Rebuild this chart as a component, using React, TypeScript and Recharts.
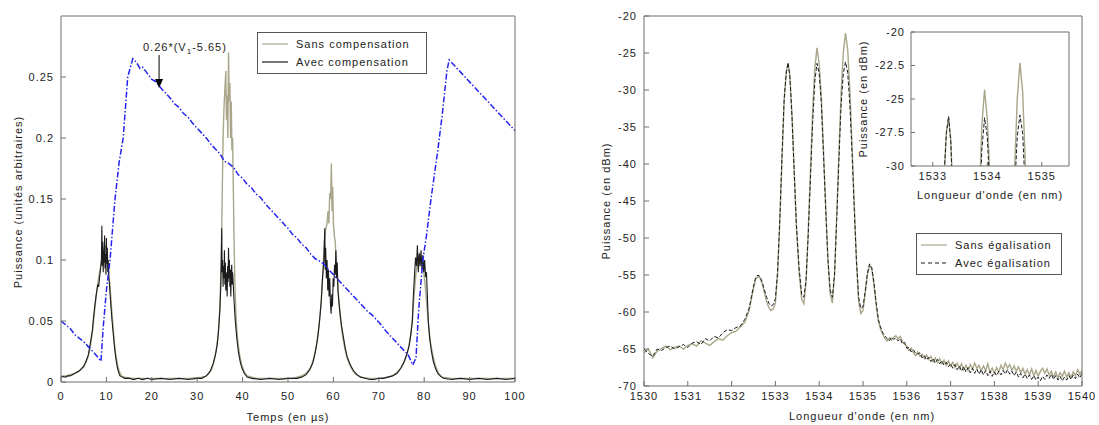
import React from 'react';
import { LineChart, Line, XAxis, YAxis, ReferenceLine, ReferenceDot } from 'recharts';

// ---------- panneau gauche : puissance vs temps ----------
const tempsTicks = [0, 10, 20, 30, 40, 50, 60, 70, 80, 90, 100];
const tempsTopTicks = [10, 20, 30, 40, 50, 60, 70, 80, 90];
const puisTicks = [0, 0.05, 0.1, 0.15, 0.2, 0.25];
const puisRightTicks = [0.05, 0.1, 0.15, 0.2, 0.25];

// commande 0.26*(V1-5.65)
const rampe: [number, number][] = [
  [0, 0.05], [1, 0.047], [2, 0.044], [3, 0.039], [4, 0.036], [5, 0.033], [6, 0.029], [7, 0.025], [8, 0.021],
  [8.8, 0.017], [9.3, 0.045], [10, 0.075], [10.8, 0.1], [11.9, 0.15], [12.8, 0.18], [13.7, 0.2], [14.7, 0.25],
  [15.8, 0.265], [16.6, 0.262], [17.4, 0.257], [18, 0.258], [19, 0.253], [20, 0.248], [21, 0.246], [22, 0.241],
  [23, 0.237], [24, 0.233], [25, 0.228], [26, 0.225], [27, 0.22], [28, 0.217], [29, 0.212], [30, 0.208],
  [31, 0.204], [32, 0.2], [33, 0.195], [34, 0.191], [35, 0.187], [36, 0.181], [37, 0.179], [38, 0.176],
  [39, 0.17], [40, 0.167], [41, 0.162], [42, 0.159], [43, 0.154], [44, 0.151], [45, 0.146], [46, 0.142],
  [47, 0.138], [48, 0.134], [49, 0.13], [50, 0.126], [51, 0.121], [52, 0.118], [53, 0.113], [54, 0.11],
  [55, 0.105], [56, 0.101], [57, 0.099], [57.8, 0.097], [58.5, 0.094], [59.5, 0.09], [60.5, 0.086],
  [61.5, 0.082], [62.5, 0.078], [63.5, 0.074], [64.5, 0.07], [65.5, 0.066], [66.5, 0.062], [67.5, 0.058],
  [68.5, 0.055], [69.5, 0.051], [70.5, 0.047], [71.5, 0.042], [72.5, 0.038], [73.5, 0.034], [74.5, 0.03],
  [75.5, 0.026], [76.5, 0.022], [77.5, 0.014], [78.2, 0.02], [78.8, 0.06], [79.7, 0.1], [80.5, 0.12],
  [81.5, 0.15], [83, 0.19], [84, 0.22], [85, 0.255], [85.5, 0.264], [86.5, 0.26], [88, 0.254], [90, 0.246],
  [92, 0.238], [94, 0.23], [96, 0.222], [98, 0.214], [100, 0.206],
];

const sansComp: [number, number][] = [
  [0, 0.005], [1, 0.005], [2, 0.006], [3, 0.007], [4, 0.009], [5, 0.012], [5.5, 0.016], [6, 0.021], [6.5, 0.03],
  [7, 0.043], [7.4, 0.058], [7.8, 0.072], [8.2, 0.083], [8.6, 0.092], [9, 0.1], [9.3, 0.108], [9.6, 0.112],
  [9.9, 0.11], [10.2, 0.104], [10.5, 0.092], [10.8, 0.078], [11.1, 0.063], [11.4, 0.048], [11.7, 0.035],
  [12, 0.024], [12.4, 0.015], [12.8, 0.009], [13.3, 0.005], [14, 0.004], [16, 0.003], [20, 0.003], [24, 0.003],
  [28, 0.003], [31, 0.004], [32, 0.005], [33, 0.009], [33.6, 0.015], [34.1, 0.024], [34.6, 0.038], [35, 0.06],
  [35.3, 0.1], [35.5, 0.15], [35.7, 0.2], [35.9, 0.225], [36.1, 0.24], [36.3, 0.255], [36.45, 0.215],
  [36.6, 0.235], [36.75, 0.2], [36.9, 0.27], [37.05, 0.23], [37.2, 0.245], [37.35, 0.2], [37.5, 0.23],
  [37.65, 0.19], [37.8, 0.2], [37.95, 0.16], [38.1, 0.12], [38.3, 0.08], [38.6, 0.05], [38.9, 0.035],
  [39.3, 0.023], [39.8, 0.014], [40.4, 0.008], [41, 0.005], [43, 0.003], [47, 0.003], [51, 0.003], [53, 0.005],
  [54, 0.007], [55, 0.012], [55.7, 0.02], [56.3, 0.031], [56.8, 0.045], [57.3, 0.065], [57.7, 0.09],
  [58, 0.115], [58.3, 0.125], [58.6, 0.13], [58.8, 0.14], [59, 0.13], [59.2, 0.155], [59.4, 0.15],
  [59.55, 0.179], [59.7, 0.14], [59.85, 0.16], [60, 0.13], [60.2, 0.12], [60.4, 0.115], [60.6, 0.1],
  [60.8, 0.088], [61, 0.078], [61.3, 0.063], [61.6, 0.05], [62, 0.038], [62.5, 0.028], [63, 0.02],
  [63.6, 0.014], [64.3, 0.009], [65, 0.006], [66, 0.004], [68, 0.003], [70, 0.003], [72, 0.004], [73, 0.005],
  [74, 0.008], [75, 0.012], [75.8, 0.018], [76.5, 0.027], [77, 0.038], [77.4, 0.052], [77.8, 0.072],
  [78.2, 0.09], [78.6, 0.1], [79, 0.106], [79.4, 0.1], [79.8, 0.094], [80.2, 0.08], [80.6, 0.062], [81, 0.045],
  [81.4, 0.032], [81.9, 0.022], [82.5, 0.013], [83.2, 0.007], [84, 0.004], [86, 0.003], [90, 0.003],
  [95, 0.003], [100, 0.003],
];

const avecComp: [number, number][] = [
  [0, 0.004], [0.5, 0.0045], [1, 0.004], [1.5, 0.005], [2, 0.005], [2.5, 0.006], [3, 0.007], [3.5, 0.008],
  [4, 0.009], [4.5, 0.011], [5, 0.013], [5.5, 0.017], [6, 0.022], [6.3, 0.028], [6.6, 0.035], [6.9, 0.042],
  [7.1, 0.05], [7.3, 0.058], [7.5, 0.064], [7.7, 0.07], [7.9, 0.075], [8.1, 0.08], [8.3, 0.078], [8.5, 0.086],
  [8.7, 0.092], [8.9, 0.1], [9, 0.128], [9.1, 0.095], [9.2, 0.115], [9.3, 0.09], [9.4, 0.108], [9.5, 0.098],
  [9.6, 0.12], [9.7, 0.093], [9.8, 0.105], [9.9, 0.088], [10, 0.118], [10.1, 0.097], [10.2, 0.11], [10.3, 0.09],
  [10.4, 0.1], [10.5, 0.085], [10.6, 0.083], [10.8, 0.073], [11, 0.062], [11.2, 0.052], [11.5, 0.04],
  [11.8, 0.028], [12.1, 0.019], [12.4, 0.012], [12.7, 0.008], [13, 0.005], [13.5, 0.004], [14, 0.003],
  [15, 0.003], [16, 0.002], [17, 0.003], [18, 0.002], [19, 0.003], [20, 0.002], [22, 0.003], [24, 0.002],
  [26, 0.003], [28, 0.002], [30, 0.003], [31, 0.003], [32, 0.005], [32.5, 0.007], [33, 0.01], [33.5, 0.015],
  [34, 0.022], [34.4, 0.03], [34.7, 0.042], [35, 0.06], [35.2, 0.08], [35.3, 0.1], [35.4, 0.126], [35.5, 0.09],
  [35.6, 0.1], [35.7, 0.078], [35.8, 0.095], [35.9, 0.085], [36, 0.108], [36.1, 0.08], [36.2, 0.098],
  [36.3, 0.075], [36.4, 0.09], [36.5, 0.083], [36.6, 0.07], [36.7, 0.095], [36.8, 0.082], [36.9, 0.11],
  [37, 0.085], [37.1, 0.1], [37.2, 0.078], [37.3, 0.092], [37.4, 0.07], [37.5, 0.088], [37.6, 0.096],
  [37.7, 0.08], [37.8, 0.09], [37.9, 0.083], [38.1, 0.068], [38.3, 0.055], [38.5, 0.045], [38.8, 0.033],
  [39.1, 0.024], [39.5, 0.016], [39.9, 0.011], [40.4, 0.007], [41, 0.004], [42, 0.003], [44, 0.002],
  [46, 0.003], [48, 0.002], [50, 0.003], [52, 0.003], [53, 0.004], [54, 0.006], [54.8, 0.01], [55.5, 0.016],
  [56, 0.024], [56.5, 0.035], [56.9, 0.048], [57.3, 0.065], [57.6, 0.085], [57.9, 0.1], [58.1, 0.126],
  [58.2, 0.092], [58.3, 0.11], [58.45, 0.085], [58.6, 0.1], [58.75, 0.075], [58.9, 0.092], [59.05, 0.07],
  [59.2, 0.085], [59.35, 0.064], [59.5, 0.056], [59.65, 0.072], [59.8, 0.062], [59.95, 0.085], [60.1, 0.078],
  [60.25, 0.096], [60.4, 0.088], [60.55, 0.108], [60.7, 0.085], [60.85, 0.098], [61, 0.075], [61.2, 0.066],
  [61.5, 0.055], [61.8, 0.046], [62.2, 0.037], [62.6, 0.028], [63, 0.021], [63.5, 0.016], [64, 0.012],
  [64.5, 0.009], [65.2, 0.006], [66, 0.004], [67, 0.003], [68, 0.002], [69, 0.002], [70, 0.003], [71, 0.003],
  [72, 0.004], [73, 0.005], [74, 0.007], [74.8, 0.011], [75.5, 0.016], [76.2, 0.023], [76.7, 0.03],
  [77.1, 0.04], [77.4, 0.05], [77.6, 0.07], [77.9, 0.09], [78.1, 0.102], [78.3, 0.095], [78.5, 0.112],
  [78.7, 0.09], [78.9, 0.105], [79.1, 0.095], [79.3, 0.108], [79.5, 0.092], [79.7, 0.104], [79.9, 0.09],
  [80.1, 0.1], [80.3, 0.086], [80.5, 0.09], [80.7, 0.07], [80.9, 0.05], [81.2, 0.036], [81.6, 0.025],
  [82, 0.017], [82.5, 0.011], [83, 0.007], [83.5, 0.005], [84.2, 0.003], [86, 0.002], [88, 0.003],
  [90, 0.002], [92, 0.003], [94, 0.002], [96, 0.003], [98, 0.002], [100, 0.003],
];

// ---------- panneau droit : spectre ----------
const lambdaTicks = [1530, 1531, 1532, 1533, 1534, 1535, 1536, 1537, 1538, 1539, 1540];
const lambdaTopTicks = [1531, 1532, 1533, 1534, 1535, 1536, 1537, 1538, 1539];
const dbmTicks = [-70, -65, -60, -55, -50, -45, -40, -35, -30, -25, -20];
const dbmRightTicks = [-65, -60, -55, -50, -45, -40, -35, -30, -25];
const zoomLambdaTicks = [1533, 1534, 1535];
const zoomDbmTicks = [-30, -27.5, -25, -22.5, -20];
const zoomDbmRightTicks = [-27.5, -25, -22.5];

const sansEgal: [number, number][] = [
  [1530, -65.5], [1530.1, -65.0], [1530.2, -66.2], [1530.3, -65.3], [1530.4, -64.9], [1530.5, -64.6],
  [1530.6, -65.1], [1530.7, -64.8], [1530.8, -64.6], [1530.9, -65.0], [1531, -64.5], [1531.1, -64.3],
  [1531.2, -64.6], [1531.3, -63.9], [1531.4, -64.2], [1531.5, -64.5], [1531.6, -64.0], [1531.7, -63.6],
  [1531.8, -63.8], [1531.9, -63.2], [1532, -62.8], [1532.1, -62.6], [1532.2, -62.0], [1532.3, -61.4],
  [1532.4, -59.8], [1532.45, -58.3], [1532.5, -56.8], [1532.55, -55.6], [1532.6, -55.2], [1532.65, -55.4],
  [1532.7, -56.2], [1532.75, -57.4], [1532.8, -58.6], [1532.85, -59.4], [1532.9, -59.8], [1532.95, -59.6],
  [1533, -58.8], [1533.05, -55.0], [1533.1, -48.0], [1533.15, -39.5], [1533.2, -31.5], [1533.25, -27.5],
  [1533.29, -26.4], [1533.33, -28.0], [1533.38, -33.5], [1533.43, -41.0], [1533.48, -48.5], [1533.54, -54.5],
  [1533.6, -58.3], [1533.65, -58.9], [1533.7, -56.0], [1533.75, -49.0], [1533.8, -41.0], [1533.85, -33.0],
  [1533.9, -27.0], [1533.95, -24.3], [1534, -26.5], [1534.05, -31.0], [1534.1, -38.5], [1534.15, -46.0],
  [1534.2, -53.0], [1534.25, -57.5], [1534.3, -58.8], [1534.35, -55.0], [1534.4, -47.0], [1534.45, -38.5],
  [1534.5, -30.5], [1534.55, -25.0], [1534.6, -22.3], [1534.65, -24.5], [1534.7, -30.0], [1534.75, -37.5],
  [1534.8, -45.5], [1534.85, -53.0], [1534.9, -58.5], [1534.95, -60.2], [1535, -59.8], [1535.05, -57.5],
  [1535.1, -55.0], [1535.15, -53.7], [1535.2, -54.2], [1535.25, -56.3], [1535.3, -59.0], [1535.35, -61.2],
  [1535.4, -62.3], [1535.45, -63.0], [1535.5, -63.6], [1535.55, -63.9], [1535.6, -63.5], [1535.65, -63.8],
  [1535.7, -63.4], [1535.75, -63.2], [1535.8, -63.6], [1535.85, -63.3], [1535.9, -64.0], [1535.95, -64.4],
  [1536, -64.6], [1536.05, -65.2], [1536.1, -64.9], [1536.15, -65.5], [1536.2, -65.9], [1536.25, -65.4],
  [1536.3, -66.0], [1536.35, -65.7], [1536.4, -66.3], [1536.45, -65.8], [1536.5, -66.4], [1536.55, -66.0],
  [1536.6, -66.7], [1536.65, -66.2], [1536.7, -66.8], [1536.75, -66.3], [1536.8, -67.0], [1536.85, -66.5],
  [1536.9, -67.2], [1536.95, -66.6], [1537, -67.3], [1537.05, -66.8], [1537.1, -67.5], [1537.15, -66.9],
  [1537.2, -67.6], [1537.25, -67.0], [1537.3, -67.8], [1537.35, -67.2], [1537.4, -67.9], [1537.45, -67.1],
  [1537.5, -67.7], [1537.55, -66.9], [1537.6, -67.6], [1537.65, -67.2], [1537.7, -68.0], [1537.75, -67.3],
  [1537.8, -67.9], [1537.85, -67.0], [1537.9, -68.2], [1537.95, -67.6], [1538, -68.3], [1538.05, -67.5],
  [1538.1, -68.1], [1538.15, -67.2], [1538.2, -67.8], [1538.25, -66.9], [1538.3, -67.6], [1538.35, -67.1],
  [1538.4, -67.9], [1538.45, -67.3], [1538.5, -68.0], [1538.55, -67.4], [1538.6, -68.2], [1538.65, -67.6],
  [1538.7, -68.4], [1538.75, -67.8], [1538.8, -68.5], [1538.85, -67.7], [1538.9, -68.6], [1538.95, -67.9],
  [1539, -68.7], [1539.05, -68.0], [1539.1, -67.6], [1539.15, -68.3], [1539.2, -67.7], [1539.25, -68.5],
  [1539.3, -68.0], [1539.35, -68.8], [1539.4, -68.1], [1539.45, -68.9], [1539.5, -68.2], [1539.55, -68.7],
  [1539.6, -68.0], [1539.65, -68.8], [1539.7, -68.2], [1539.75, -68.9], [1539.8, -68.1], [1539.85, -68.6],
  [1539.9, -67.8], [1539.95, -68.4], [1540, -67.9],
];

const avecEgal: [number, number][] = [
  [1530, -65.0], [1530.1, -65.6], [1530.2, -66.0], [1530.3, -65.0], [1530.4, -65.2], [1530.5, -64.8],
  [1530.6, -64.6], [1530.7, -65.0], [1530.8, -64.7], [1530.9, -64.4], [1531, -64.8], [1531.1, -64.2],
  [1531.2, -64.0], [1531.3, -64.4], [1531.4, -63.6], [1531.5, -63.9], [1531.6, -63.3], [1531.7, -63.5],
  [1531.8, -62.8], [1531.9, -62.4], [1532, -62.5], [1532.1, -62.1], [1532.2, -61.9], [1532.3, -61.0],
  [1532.4, -59.5], [1532.45, -58.0], [1532.5, -56.5], [1532.55, -55.3], [1532.6, -55.0], [1532.65, -55.2],
  [1532.7, -56.0], [1532.75, -57.0], [1532.8, -58.0], [1532.85, -58.8], [1532.9, -59.2], [1532.95, -59.0],
  [1533, -58.2], [1533.05, -54.5], [1533.1, -47.5], [1533.15, -39.0], [1533.2, -31.2], [1533.25, -27.5],
  [1533.29, -26.3], [1533.33, -28.2], [1533.38, -33.8], [1533.43, -41.2], [1533.48, -48.3], [1533.54, -54.0],
  [1533.6, -57.6], [1533.65, -58.0], [1533.7, -55.6], [1533.75, -49.5], [1533.8, -42.0], [1533.85, -34.5],
  [1533.9, -28.8], [1533.95, -26.4], [1534, -27.8], [1534.05, -32.0], [1534.1, -39.0], [1534.15, -46.3],
  [1534.2, -53.0], [1534.25, -57.0], [1534.3, -58.0], [1534.35, -55.0], [1534.4, -47.5], [1534.45, -39.5],
  [1534.5, -32.0], [1534.55, -27.8], [1534.6, -26.2], [1534.65, -27.6], [1534.7, -32.0], [1534.75, -38.5],
  [1534.8, -46.0], [1534.85, -53.0], [1534.9, -58.0], [1534.95, -59.5], [1535, -59.3], [1535.05, -57.2],
  [1535.1, -54.8], [1535.15, -53.5], [1535.2, -54.0], [1535.25, -56.0], [1535.3, -58.7], [1535.35, -61.0],
  [1535.4, -62.0], [1535.45, -62.8], [1535.5, -63.2], [1535.55, -63.6], [1535.6, -63.9], [1535.65, -63.4],
  [1535.7, -63.7], [1535.75, -63.5], [1535.8, -63.9], [1535.85, -63.6], [1535.9, -64.3], [1535.95, -64.1],
  [1536, -64.9], [1536.05, -64.8], [1536.1, -65.4], [1536.15, -65.1], [1536.2, -65.6], [1536.25, -65.7],
  [1536.3, -65.5], [1536.35, -66.2], [1536.4, -65.9], [1536.45, -66.5], [1536.5, -66.1], [1536.55, -66.7],
  [1536.6, -66.3], [1536.65, -66.9], [1536.7, -66.4], [1536.75, -67.0], [1536.8, -66.6], [1536.85, -67.2],
  [1536.9, -66.8], [1536.95, -67.4], [1537, -67.0], [1537.05, -67.6], [1537.1, -67.1], [1537.15, -67.8],
  [1537.2, -67.3], [1537.25, -68.0], [1537.3, -67.4], [1537.35, -68.1], [1537.4, -67.5], [1537.45, -68.2],
  [1537.5, -67.6], [1537.55, -68.3], [1537.6, -67.7], [1537.65, -68.4], [1537.7, -67.8], [1537.75, -68.5],
  [1537.8, -67.9], [1537.85, -68.6], [1537.9, -68.0], [1537.95, -68.7], [1538, -68.1], [1538.05, -68.6],
  [1538.1, -68.0], [1538.15, -68.5], [1538.2, -67.9], [1538.25, -68.4], [1538.3, -67.8], [1538.35, -68.4],
  [1538.4, -68.0], [1538.45, -68.6], [1538.5, -68.1], [1538.55, -68.8], [1538.6, -68.3], [1538.65, -68.9],
  [1538.7, -68.4], [1538.75, -69.0], [1538.8, -68.5], [1538.85, -69.1], [1538.9, -68.6], [1538.95, -69.2],
  [1539, -68.8], [1539.05, -69.3], [1539.1, -68.7], [1539.15, -69.1], [1539.2, -68.5], [1539.25, -69.0],
  [1539.3, -68.4], [1539.35, -69.1], [1539.4, -68.6], [1539.45, -69.2], [1539.5, -68.7], [1539.55, -69.3],
  [1539.6, -68.8], [1539.65, -69.2], [1539.7, -68.6], [1539.75, -69.1], [1539.8, -68.5], [1539.85, -69.0],
  [1539.9, -68.4], [1539.95, -68.9], [1540, -68.3],
];

const toPts = (arr: [number, number][]) => arr.map(([x, y]) => ({ x, y }));

const FRAME = '#6e6e6e';
const GREY = '#a9a68a';
const BLACK = '#1c1c1c';
const BLUE = '#2424f0';
const TXT = '#222';
const tickStyle = { fill: TXT, fontSize: 11 };
const font = "'Liberation Sans', Arial, sans-serif";

const textBase: React.CSSProperties = {
  position: 'absolute',
  fontSize: 11,
  letterSpacing: '1px',
  color: TXT,
  whiteSpace: 'nowrap',
  fontFamily: font,
};

function Title({ x, y, rotate, children }: { x: number; y: number; rotate?: boolean; children: React.ReactNode }) {
  return (
    <div
      style={{
        ...textBase,
        left: x,
        top: y,
        transform: `translate(-50%, -50%)${rotate ? ' rotate(-90deg)' : ''}`,
      }}
    >
      {children}
    </div>
  );
}

function LegendBox({ left, top, width, rows }: {
  left: number; top: number; width: number;
  rows: { label: string; color: string; dash?: string }[];
}) {
  return (
    <div
      style={{
        position: 'absolute', left, top, width, background: '#fff',
        border: '1px solid #555', padding: '2px 0', boxSizing: 'border-box',
      }}
    >
      {rows.map((r) => (
        <div key={r.label} style={{ display: 'flex', alignItems: 'center', height: 18 }}>
          <svg width={34} height={10} style={{ marginLeft: 4 }}>
            <line x1={0} y1={5} x2={26} y2={5} stroke={r.color} strokeWidth={1.2} strokeDasharray={r.dash} />
          </svg>
          <span style={{ ...textBase, position: 'static' }}>{r.label}</span>
        </div>
      ))}
    </div>
  );
}

const arrowHead = (p: any) => (
  <polygon points={`${p.cx - 4},${p.cy - 9} ${p.cx + 4},${p.cy - 9} ${p.cx},${p.cy}`} fill="#000" />
);

// axes with height/width 1 so that Recharts still draws them (0 hides the axis)
function PanneauTemps() {
  return (
    <LineChart width={540} height={425} margin={{ top: 15, right: 24, bottom: 42, left: 60 }}>
      <XAxis xAxisId="b" dataKey="x" type="number" domain={[0, 100]} ticks={tempsTicks} interval={0}
        height={1} tickSize={-5} tickMargin={15} stroke={FRAME} tick={tickStyle} />
      <XAxis xAxisId="t" orientation="top" dataKey="x" type="number" domain={[0, 100]} ticks={tempsTopTicks}
        interval={0} height={1} tickSize={-5} stroke={FRAME} tick={false} />
      <YAxis yAxisId="l" type="number" domain={[0, 0.3]} ticks={puisTicks} interval={0} width={1}
        tickSize={-5} tickMargin={12} stroke={FRAME} tick={tickStyle} />
      <YAxis yAxisId="r" orientation="right" type="number" domain={[0, 0.3]} ticks={puisRightTicks}
        interval={0} width={1} tickSize={-5} stroke={FRAME} tick={false} />
      <Line xAxisId="b" yAxisId="l" data={toPts(sansComp)} dataKey="y" stroke={GREY} strokeWidth={1.4}
        dot={false} isAnimationActive={false} />
      <Line xAxisId="b" yAxisId="l" data={toPts(avecComp)} dataKey="y" stroke={BLACK} strokeWidth={1.1}
        dot={false} isAnimationActive={false} />
      <Line xAxisId="b" yAxisId="l" data={toPts(rampe)} dataKey="y" stroke={BLUE} strokeWidth={1.5}
        strokeDasharray="6 2 1.5 2" dot={false} isAnimationActive={false} />
      <ReferenceLine xAxisId="b" yAxisId="l" segment={[{ x: 21.6, y: 0.268 }, { x: 21.6, y: 0.248 }]}
        stroke="#000" />
      <ReferenceDot xAxisId="b" yAxisId="l" x={21.6} y={0.241} shape={arrowHead} />
    </LineChart>
  );
}

function PanneauSpectre() {
  return (
    <LineChart width={539} height={425} margin={{ top: 15, right: 16, bottom: 38, left: 83 }}>
      <XAxis xAxisId="b" dataKey="x" type="number" domain={[1530, 1540]} ticks={lambdaTicks} interval={0}
        height={1} tickSize={-5} tickMargin={11} stroke={FRAME} tick={tickStyle} />
      <XAxis xAxisId="t" orientation="top" dataKey="x" type="number" domain={[1530, 1540]}
        ticks={lambdaTopTicks} interval={0} height={1} tickSize={-5} stroke={FRAME} tick={false} />
      <YAxis yAxisId="l" type="number" domain={[-70, -20]} ticks={dbmTicks} interval={0} width={1}
        tickSize={-5} tickMargin={12} stroke={FRAME} tick={tickStyle} />
      <YAxis yAxisId="r" orientation="right" type="number" domain={[-70, -20]} ticks={dbmRightTicks}
        interval={0} width={1} tickSize={-5} stroke={FRAME} tick={false} />
      <Line xAxisId="b" yAxisId="l" data={toPts(sansEgal)} dataKey="y" stroke={GREY} strokeWidth={1.4}
        dot={false} isAnimationActive={false} />
      <Line xAxisId="b" yAxisId="l" data={toPts(avecEgal)} dataKey="y" stroke={BLACK} strokeWidth={1}
        strokeDasharray="4 2" dot={false} isAnimationActive={false} />
    </LineChart>
  );
}

function Encart() {
  return (
    <LineChart width={240} height={200} margin={{ top: 31, right: 20, bottom: 33, left: 60 }}>
      <XAxis xAxisId="b" dataKey="x" type="number" domain={[1532.6, 1535.5]} allowDataOverflow
        ticks={zoomLambdaTicks} interval={0} height={1} tickSize={-4} tickMargin={10} stroke={FRAME}
        tick={tickStyle} />
      <XAxis xAxisId="t" orientation="top" dataKey="x" type="number" domain={[1532.6, 1535.5]}
        allowDataOverflow ticks={zoomLambdaTicks} interval={0} height={1} tickSize={-4} stroke={FRAME}
        tick={false} />
      <YAxis yAxisId="l" type="number" domain={[-30, -20]} allowDataOverflow ticks={zoomDbmTicks} interval={0}
        width={1} tickSize={-4} tickMargin={10} stroke={FRAME} tick={tickStyle} />
      <YAxis yAxisId="r" orientation="right" type="number" domain={[-30, -20]} allowDataOverflow
        ticks={zoomDbmRightTicks} interval={0} width={1} tickSize={-4} stroke={FRAME} tick={false} />
      <Line xAxisId="b" yAxisId="l" data={toPts(sansEgal)} dataKey="y" stroke={GREY} strokeWidth={1.4}
        dot={false} isAnimationActive={false} />
      <Line xAxisId="b" yAxisId="l" data={toPts(avecEgal)} dataKey="y" stroke={BLACK} strokeWidth={1}
        strokeDasharray="4 2" dot={false} isAnimationActive={false} />
    </LineChart>
  );
}

export default function App() {
  return (
    <div
      style={{
        position: 'absolute', left: 0, top: 0, width: 1099, height: 425, background: '#fff',
        fontFamily: font, letterSpacing: '1px', overflow: 'hidden',
      }}
    >
      <div style={{ position: 'absolute', left: 0, top: 0 }}>
        <PanneauTemps />
      </div>
      <div style={{ position: 'absolute', left: 560, top: 0 }}>
        <PanneauSpectre />
      </div>
      <div style={{ position: 'absolute', left: 850, top: 0 }}>
        <Encart />
      </div>

      <Title x={18} y={202} rotate>Puissance (unités arbitraires)</Title>
      <Title x={288} y={417}>Temps (en µs)</Title>
      <Title x={606} y={201} rotate>Puissance (en dBm)</Title>
      <Title x={862} y={416}>Longueur d'onde (en nm)</Title>
      <Title x={863} y={99} rotate>Puissance (en dBm)</Title>
      <Title x={990} y={195}>Longueur d'onde (en nm)</Title>
      <div style={{ ...textBase, left: 143, top: 41 }}>
        0.26*(V<sub style={{ fontSize: 8 }}>1</sub>-5.65)
      </div>

      <LegendBox left={257} top={32} width={170} rows={[
        { label: 'Sans compensation', color: GREY },
        { label: 'Avec compensation', color: BLACK },
      ]} />
      <LegendBox left={916} top={233} width={146} rows={[
        { label: 'Sans égalisation', color: GREY },
        { label: 'Avec égalisation', color: BLACK, dash: '4 3' },
      ]} />
    </div>
  );
}
